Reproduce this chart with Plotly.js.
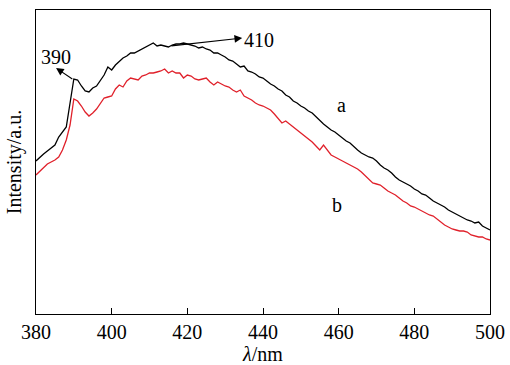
<!DOCTYPE html>
<html><head><meta charset="utf-8">
<script src="https://cdn.plot.ly/plotly-3.0.1.min.js"></script>
<style>html,body{margin:0;padding:0;background:#fff}</style>
</head><body><div id="chart" style="width:510px;height:365px"></div>
<script>
const wavelength = [380,381,382,383,384,385,386,387,388,390,391,392,393,394,395,396,397,398,399,400,401,402,403,404,405,406,407,408,409,410,411,412,413,414,415,416,417,418,419,420,421,422,423,424,425,426,427,428,429,430,431,432,433,434,435,436,437,438,439,440,441,442,443,444,445,446,447,448,449,450,451,452,453,454,455,456,457,458,459,460,461,462,463,464,465,466,467,468,469,470,471,472,473,474,475,476,477,478,479,480,481,482,483,484,485,486,487,488,489,490,491,492,493,494,495,496,497,498,499,500];
const seriesA = [153,157,160,163,166,169,177,182,187,235,234,228,223,222,226,228,233,239,247,244,249,253,256,258,261,261,263,265,267,269,271,268,269,268,267,269,270,270,271,270,269,268,266,267,265,264,261,261,259,257,254,253,250,247,248,243,242,240,237,236,233,230,228,225,223,219,217,213,211,208,206,203,201,197,194,190,187,184,182,179,176,173,171,167,164,161,159,157,156,153,149,146,144,141,137,134,132,130,128,125,123,120,119,116,113,111,109,107,104,102,100,98,96,94,93,91,92,88,86,84];
const wavelengthB = [380,381,382,383,384,385,386,387,388,389,390,391,392,393,394,395,396,397,398,399,400,401,402,403,404,405,406,407,408,409,410,411,412,413,414,415,416,417,418,419,420,421,422,423,424,425,426,427,428,429,430,431,432,433,434,435,436,437,438,439,440,441,442,443,444,445,446,447,448,449,450,451,452,453,454,455,456,457,458,459,460,461,462,463,464,465,466,467,468,469,470,471,472,473,474,475,476,477,478,479,480,481,482,483,484,485,486,487,488,489,490,491,492,493,494,495,496,497,498,499,500];
const seriesB = [139,143,147,150,152,154,157,164,174,189,215,213,208,202,198,201,205,210,216,217,218,225,229,227,233,236,235,234,238,239,241,241,242,243,245,241,243,241,241,236,239,238,235,234,235,236,232,229,232,230,228,227,224,222,224,218,216,214,211,209,208,206,204,200,195,191,193,190,187,184,181,178,175,172,168,164,169,164,159,157,155,153,151,149,147,145,142,138,134,131,130,129,126,123,121,119,116,113,111,108,107,105,103,101,99,98,95,92,89,87,85,84,83,83,82,79,78,77,77,75,74];
const xTicks = [380,400,420,440,460,480,500];
const seriesNames = ['a','b'];
const peakLabels = ['390','410'];

const serif = '"Liberation Serif", "Times New Roman", serif';
const traces = [
  {x: wavelength, y: seriesA, name: seriesNames[0], mode:'lines', line:{color:'#000000', width:1.3}},
  {x: wavelengthB, y: seriesB, name: seriesNames[1], mode:'lines', line:{color:'#e0202a', width:1.3}}
];
const layout = {
  width:510, height:365,
  margin:{l:36, r:20, t:10, b:51},
  showlegend:false,
  paper_bgcolor:'#fff', plot_bgcolor:'#fff',
  font:{family:serif, size:20, color:'#000'},
  xaxis:{range:[380,500], tickvals:xTicks, ticktext:xTicks.map(String), ticks:'inside', ticklen:6, tickwidth:1, tickcolor:'#000',
    showline:true, linecolor:'#000', linewidth:1, mirror:true, showgrid:false, zeroline:false, automargin:false,
    tickfont:{family:serif, size:20}, title:{text:'<i>λ</i>/nm', font:{family:serif, size:20}, standoff:0}},
  yaxis:{range:[0,304], showticklabels:false, ticks:'', showline:true, linecolor:'#000', linewidth:1, mirror:true, automargin:false,
    showgrid:false, zeroline:false, title:{text:'Intensity/a.u.', font:{family:serif, size:20}, standoff:8}},
  annotations:[
    {x:385.3, y:246, ax:390, ay:234, axref:'x', ayref:'y', xref:'x', yref:'y', text:'', showarrow:true, arrowhead:2, arrowsize:1.4, arrowwidth:1.1, arrowcolor:'#000'},
    {x:385.3, y:257, xref:'x', yref:'y', text:peakLabels[0], showarrow:false, font:{family:serif, size:20}},
    {x:434.5, y:276, ax:415.4, ay:268, axref:'x', ayref:'y', xref:'x', yref:'y', text:'', showarrow:true, arrowhead:2, arrowsize:1.4, arrowwidth:1.1, arrowcolor:'#000'},
    {x:434.5, y:274, xref:'x', yref:'y', xanchor:'left', text:peakLabels[1], showarrow:false, font:{family:serif, size:20}},
    {x:460.7, y:209, xref:'x', yref:'y', text:seriesNames[0], showarrow:false, font:{family:serif, size:20}},
    {x:459.6, y:109, xref:'x', yref:'y', text:seriesNames[1], showarrow:false, font:{family:serif, size:20}}
  ]
};
Plotly.newPlot('chart', traces, layout, {displayModeBar:false, staticPlot:true});
</script></body></html>
